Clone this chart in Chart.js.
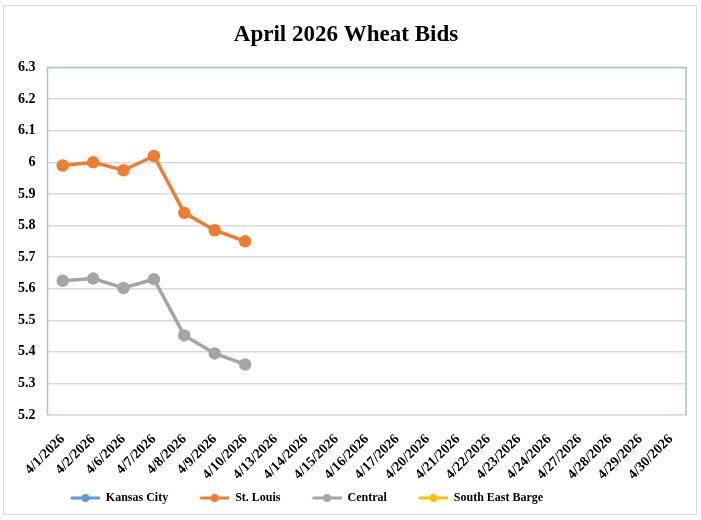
<!DOCTYPE html>
<html>
<head>
<meta charset="utf-8">
<script src="https://cdn.jsdelivr.net/npm/chart.js@4"></script>
<style>
  body { margin: 0; background: #fff; }
  #wrap { position: absolute; left: 3px; top: 5px; width: 694px; height: 510px; border: 1px solid #d9d9d9; box-sizing: border-box; }
  #c { position: absolute; left: 0; top: 0; }
</style>
</head>
<body>
<div id="wrap"><canvas id="c" width="692" height="508"></canvas></div>
<script>
// Dados
const datas = ['4/1/2026', '4/2/2026', '4/6/2026', '4/7/2026', '4/8/2026', '4/9/2026', '4/10/2026',
  '4/13/2026', '4/14/2026', '4/15/2026', '4/16/2026', '4/17/2026', '4/20/2026', '4/21/2026',
  '4/22/2026', '4/23/2026', '4/24/2026', '4/27/2026', '4/28/2026', '4/29/2026', '4/30/2026'];
const kansasCity = [];
const stLouis = [5.99, 6.0, 5.975, 6.02, 5.84, 5.785, 5.75];
const central = [5.625, 5.632, 5.602, 5.63, 5.452, 5.395, 5.36];
const southEastBarge = [];
const cores = ['#5b9bd5', '#ed7d31', '#a5a5a5', '#ffc000'];

const fonte = 'Liberation Serif';

// icone da legenda: margem transparente + linha com ponto
function iconeLegenda(cor) {
    const c = document.createElement('canvas');
    c.width = 51; c.height = 10;
    const ctx = c.getContext('2d');
    ctx.strokeStyle = cor; ctx.lineWidth = 3; ctx.lineCap = 'round';
    ctx.beginPath(); ctx.moveTo(23, 5); ctx.lineTo(50, 5); ctx.stroke();
    ctx.fillStyle = cor;
    ctx.beginPath(); ctx.arc(36.5, 5, 4, 0, Math.PI * 2); ctx.fill();
    return c;
}

function serie(nome, dados, cor) {
    return {
        label: nome,
        data: dados,
        borderColor: cor,
        backgroundColor: cor,
        borderWidth: 3.5,
        pointRadius: 4.5,
        pointHoverRadius: 4.5,
        tension: 0
    };
}

const bordaArea = {
    id: 'bordaArea',
    afterLayout(chart) {
        // legenda um pouco à esquerda, como no original
        chart.legend.left -= 50;
        chart.legend.right -= 50;
    },
    afterDraw(chart) {
        const a = chart.chartArea, ctx = chart.ctx;
        ctx.save();
        ctx.strokeStyle = '#9dc3e6';
        ctx.lineWidth = 1.5;
        ctx.beginPath();
        ctx.moveTo(a.left, a.bottom); ctx.lineTo(a.left, a.top);
        ctx.lineTo(a.right, a.top); ctx.lineTo(a.right, a.bottom);
        ctx.stroke();
        ctx.restore();
    }
};

window.onload = function() {
    const el = document.getElementById('c');
    new Chart(el, {
        type: 'line',
        data: {
            labels: datas,
            datasets: [
                serie('Kansas City', kansasCity, cores[0]),
                serie('St. Louis', stLouis, cores[1]),
                serie('Central', central, cores[2]),
                serie('South East Barge', southEastBarge, cores[3])
            ]
        },
        options: {
            responsive: false,
            animation: false,
            layout: { padding: { left: 2, right: 10, top: 0, bottom: 0 } },
            plugins: {
                title: {
                    display: true,
                    text: 'April 2026 Wheat Bids',
                    color: '#000',
                    font: { family: fonte, size: 23, weight: 'bold' },
                    padding: { top: 15, bottom: 19 }
                },
                legend: {
                    position: 'bottom',
                    labels: {
                        color: '#000',
                        font: { family: fonte, size: 12, weight: 'bold' },
                        usePointStyle: true,
                        pointStyleWidth: 51,
                        padding: 10,
                        generateLabels(chart) {
                            return chart.data.datasets.map((d, i) => ({
                                text: d.label,
                                fillStyle: cores[i],
                                strokeStyle: cores[i],
                                lineWidth: 0,
                                pointStyle: iconeLegenda(cores[i]),
                                datasetIndex: i,
                                fontColor: '#000'
                            }));
                        }
                    }
                },
                tooltip: { enabled: false }
            },
            scales: {
                x: {
                    offset: true,
                    grid: { display: false },
                    border: { color: '#d9d9d9', width: 1.5 },
                    ticks: {
                        color: '#000',
                        font: { family: fonte, size: 14, weight: 'bold' },
                        minRotation: 45, maxRotation: 45,
                        autoSkip: false,
                        padding: 8
                    },
                    afterFit(scale) { scale.height = 67; }
                },
                y: {
                    min: 5.2, max: 6.3,
                    grid: { color: '#d9d9d9', lineWidth: 1.5, drawTicks: false },
                    border: { display: false },
                    ticks: {
                        stepSize: 0.1,
                        color: '#000',
                        padding: 12,
                        font: { family: fonte, size: 14, weight: 'bold' },
                        callback: v => Math.round(v * 10) / 10
                    }
                }
            }
        },
        plugins: [bordaArea]
    });
};
</script>
</body>
</html>
